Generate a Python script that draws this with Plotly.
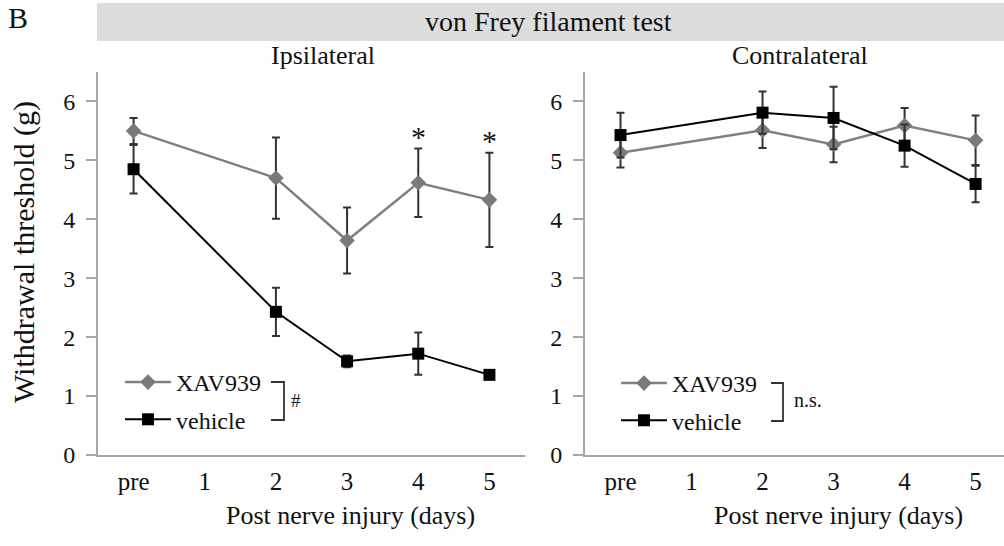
import plotly.graph_objects as go

# ---- data ----
categories = ["pre", "1", "2", "3", "4", "5"]
days = ["pre", "2", "3", "4", "5"]

ipsi_xav = [5.50, 4.70, 3.64, 4.62, 4.33]
ipsi_xav_err = [0.22, 0.69, 0.56, 0.58, 0.80]
ipsi_veh = [4.85, 2.43, 1.59, 1.72, 1.36]
ipsi_veh_err = [0.41, 0.41, 0.10, 0.36, 0.05]

contra_xav = [5.13, 5.51, 5.27, 5.59, 5.34]
contra_xav_err = [0.25, 0.30, 0.30, 0.30, 0.42]
contra_veh = [5.43, 5.81, 5.72, 5.25, 4.60]
contra_veh_err = [0.38, 0.36, 0.53, 0.36, 0.31]

sig_days = ["4", "5"]
yticks = [0, 1, 2, 3, 4, 5, 6]

FONT = "Liberation Serif"
GRAY = "#808080"
AX = "#a6a6a6"
ERR = "#333333"
W, H = 1004, 546

def px(x):
    return x / W

def py(y):
    return 1 - y / H

fig = go.Figure()

def add_pair(xa, ya, xav, xav_e, veh, veh_e, leg):
    fig.add_trace(go.Scatter(
        x=days, y=xav, xaxis=xa, yaxis=ya, name="XAV939", legend=leg, legendgroup=leg + "a",
        mode="lines+markers",
        line=dict(color=GRAY, width=2.5),
        marker=dict(symbol="diamond", size=12, color="#7a7a7a"),
        error_y=dict(type="data", array=xav_e, visible=True, color=ERR, thickness=2, width=4),
    ))
    fig.add_trace(go.Scatter(
        x=days, y=veh, xaxis=xa, yaxis=ya, name="vehicle", legend=leg, legendgroup=leg + "b",
        mode="lines+markers",
        line=dict(color="#000000", width=2),
        marker=dict(symbol="square", size=12, color="#000000"),
        error_y=dict(type="data", array=veh_e, visible=True, color=ERR, thickness=2, width=4),
    ))

add_pair("x", "y", ipsi_xav, ipsi_xav_err, ipsi_veh, ipsi_veh_err, "legend")
add_pair("x2", "y2", contra_xav, contra_xav_err, contra_veh, contra_veh_err, "legend2")

xcommon = dict(
    type="category", categoryorder="array", categoryarray=categories,
    showline=True, linecolor=AX, linewidth=2, ticks="", showgrid=False, zeroline=False,
    tickfont=dict(family=FONT, size=25, color="#111"), ticklabelstandoff=3,
    fixedrange=True, automargin=False,
)
ycommon = dict(
    range=[0, 6.5], tickvals=yticks, showline=True, linecolor=AX, linewidth=2,
    ticks="outside", ticklen=10, tickcolor=AX, tickwidth=2, showgrid=False, zeroline=False,
    tickfont=dict(family=FONT, size=24, color="#111"), ticklabelstandoff=6,
    domain=[py(455), py(72)], fixedrange=True, automargin=False,
)

legcommon = dict(xanchor="left", yanchor="top", traceorder="grouped", tracegroupgap=3,
                 font=dict(family=FONT, size=24, color="#111"), bgcolor="rgba(0,0,0,0)",
                 itemwidth=46)

fig.update_layout(
    width=W, height=H,
    margin=dict(l=0, r=0, t=0, b=0),
    paper_bgcolor="white", plot_bgcolor="white",
    font=dict(family=FONT, color="#111"),
    xaxis=dict(xcommon, domain=[px(98), px(525)], range=[-0.5, 5.5], anchor="y"),
    yaxis=dict(ycommon, anchor="x"),
    xaxis2=dict(xcommon, domain=[px(585), 1.0], range=[-0.5, 5.4], anchor="y2"),
    yaxis2=dict(ycommon, anchor="x2"),
    legend=dict(legcommon, x=px(120), y=py(360)),
    legend2=dict(legcommon, x=px(616), y=py(361)),
    showlegend=True,
)

# banner
fig.add_shape(type="rect", xref="paper", yref="paper", x0=px(97), x1=1.0, y0=py(41), y1=py(3),
              fillcolor="#dcdddc", line=dict(width=0), layer="below")

# brackets
for (xl, xr, yt, yb) in [(271, 284, 382, 420), (771, 783, 383, 421)]:
    fig.add_shape(type="path", xref="paper", yref="paper",
                  path=f"M {px(xl)},{py(yt)} L {px(xr)},{py(yt)} L {px(xr)},{py(yb)} L {px(xl)},{py(yb)}",
                  line=dict(color=ERR, width=1.8))

ann = [
    dict(text="B", x=px(18), y=py(18), size=30),
    dict(text="von Frey filament test", x=px(548), y=py(22), size=28),
    dict(text="Ipsilateral", x=px(323), y=py(56), size=26),
    dict(text="Contralateral", x=px(800), y=py(56), size=26),
    dict(text="Post nerve injury (days)", x=px(350), y=py(515), size=26),
    dict(text="Post nerve injury (days)", x=px(838), y=py(515), size=26),
    dict(text="#", x=px(296), y=py(400), size=19),
    dict(text="n.s.", x=px(808), y=py(400), size=20),
]
for a in ann:
    fig.add_annotation(text=a["text"], xref="paper", yref="paper", x=a["x"], y=a["y"],
                       xanchor="center", yanchor="middle", showarrow=False,
                       font=dict(family=FONT, size=a["size"], color="#111"))

fig.add_annotation(text="Withdrawal threshold (g)", xref="paper", yref="paper",
                   x=px(24), y=py(252), textangle=-90, showarrow=False,
                   xanchor="center", yanchor="middle",
                   font=dict(family=FONT, size=30, color="#111"))

# significance stars
for d in sig_days:
    i = days.index(d)
    fig.add_annotation(text="*", x=d, y=ipsi_xav[i] + ipsi_xav_err[i], xref="x", yref="y",
                       showarrow=False, yanchor="bottom", yshift=-6,
                       font=dict(family=FONT, size=30, color="#111"))

fig.write_html("out.html", config={"displayModeBar": False},
               post_script="document.body.style.margin='0px';")
